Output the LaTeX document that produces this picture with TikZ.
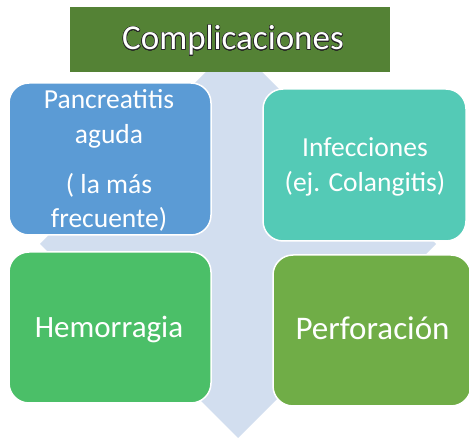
\documentclass[tikz,border=0pt]{standalone}
\usepackage{fontspec}
\setmainfont{Carlito}
\usepackage[copies]{contour}
\contourlength{0.5pt}
\contournumber{24}
\definecolor{titlegreen}{HTML}{548235}
\definecolor{boxblue}{HTML}{5B9BD5}
\definecolor{boxteal}{HTML}{54CAB6}
\definecolor{boxgreen}{HTML}{4BBF68}
\definecolor{boxolive}{HTML}{70AD47}
\definecolor{bgarrow}{HTML}{D2DEEF}
\begin{document}
\begin{tikzpicture}[x=1pt,y=-1pt,
  cardbox/.style={draw=white,line width=1.5pt,rounded corners=20pt,inner sep=0pt},
  lbl/.style={anchor=base,text=white,inner sep=0pt,font=\fontsize{27.5}{33}\selectfont}]
\useasboundingbox (0,0) rectangle (469,438);
\clip (0,0) rectangle (469,438);
% background quad arrow
\fill[bgarrow] (234,44) -- (314,124) -- (278,124) -- (278,204) -- (356,204) -- (356,164)
  -- (436,244) -- (356,324) -- (356,284) -- (278,284) -- (278,358) -- (318,358)
  -- (238,438) -- (158,358) -- (198,358) -- (198,284) -- (120,284) -- (120,324)
  -- (40,244) -- (120,164) -- (120,204) -- (198,204) -- (198,124) -- (154,124) -- cycle;
% title
\node[fill=titlegreen,inner sep=0pt,minimum width=320pt,minimum height=65pt] (title) at (230,39.5) {};
\node[anchor=base,inner sep=0pt,font=\fontsize{35}{40}\selectfont] (titletxt) at (233,50)
  {\color{white}\contour{black!85}{Complicaciones}};
% boxes
\node[cardbox,fill=boxblue,minimum width=202pt,minimum height=152pt] (pan) at (110,159) {};
\node[cardbox,fill=boxteal,minimum width=203pt,minimum height=152pt] (inf) at (364.5,165) {};
\node[cardbox,fill=boxgreen,minimum width=202pt,minimum height=151pt] (hem) at (110,327.5) {};
\node[cardbox,fill=boxolive,minimum width=198pt,minimum height=151pt] (per) at (372,330.5) {};
% labels
\node[lbl] (pan1) at (109,109) {Pancreatitis};
\node[lbl] (pan2) at (109,143.5) {aguda};
\node[lbl] (pan3) at (109,194) {( la más};
\node[lbl] (pan4) at (109,228) {frecuente)};
\node[lbl] (inf1) at (365,157) {Infecciones};
\node[lbl] (inf2) at (365,191.5) {(ej. Colangitis)};
\node[lbl,font=\fontsize{31}{37}\selectfont] (hemt) at (109,338) {Hemorragia};
\node[lbl,font=\fontsize{33}{39}\selectfont] (pert) at (372.5,340) {Perforación};
\end{tikzpicture}
\end{document}
